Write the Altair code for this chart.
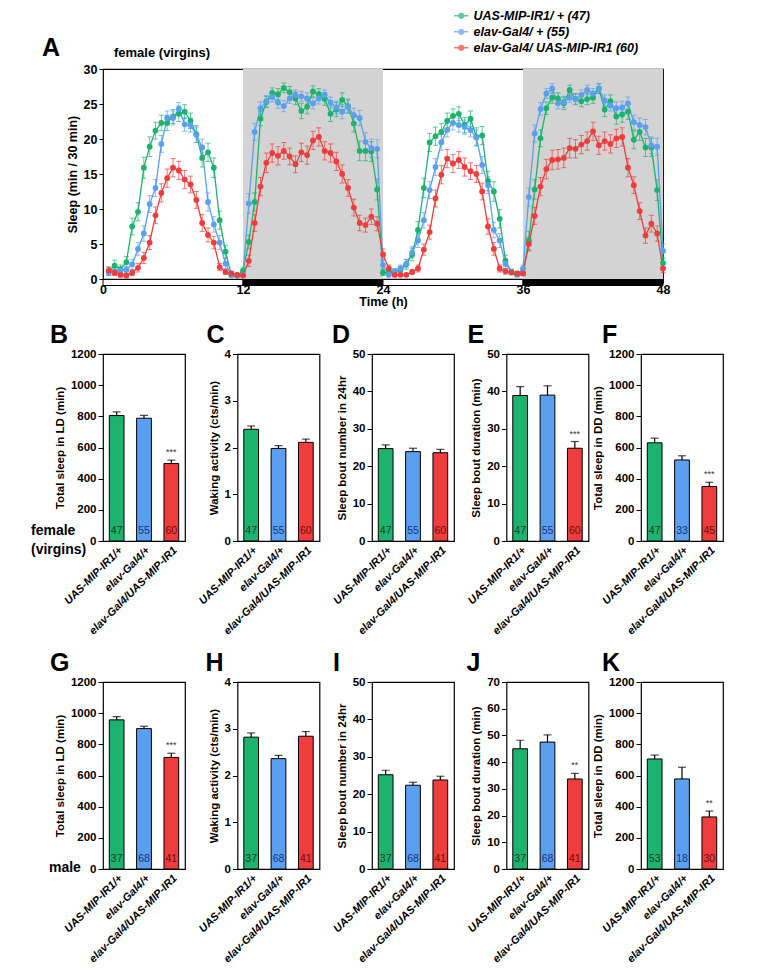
import altair as alt
import pandas as pd

FONT = "Liberation Sans"
GREEN, BLUE, RED = "#1db36e", "#5b9ff0", "#ef3c3c"
GREEN_T, BLUE_T, RED_T = "#0d4023", "#17357a", "#6e0b0b"

# ---------------- Panel A data ----------------
series_labels = ["UAS-MIP-IR1/ +  (47)", "elav-Gal4/ +  (55)", "elav-Gal4/ UAS-MIP-IR1  (60)"]

green_sleep = [1.1, 1.9, 1.4, 2.4, 7.5, 9.6, 15.9, 18.9, 21.2, 22.3, 22.3, 23.2, 23.6, 23.9, 22.6, 20.7, 17.3, 18.1, 15.9, 8.4, 3.9, 0.6, 0.5, 1.2,
               5.3, 11.0, 22.9, 25.3, 26.6, 26.4, 27.3, 26.7, 25.8, 24.0, 24.6, 26.8, 26.4, 25.7, 23.6, 24.2, 25.6, 24.7, 22.2, 18.3, 18.3, 18.2, 12.8, 0.9,
               0.9, 1.0, 1.3, 2.1, 3.5, 7.0, 13.0, 19.5, 20.4, 21.0, 22.6, 23.3, 23.6, 22.0, 22.9, 20.3, 20.5, 14.0, 12.5, 8.6, 2.6, 1.0, 0.7, 0.8,
               5.5, 12.8, 20.1, 24.4, 25.9, 25.8, 25.1, 27.0, 25.7, 25.4, 25.7, 25.9, 27.2, 24.2, 25.4, 23.2, 23.5, 23.9, 19.9, 21.0, 18.8, 18.8, 12.7, 2.3]
blue_sleep = [0.9, 1.1, 1.2, 1.3, 2.1, 4.3, 6.5, 10.7, 13.0, 19.3, 23.0, 23.0, 24.3, 22.1, 22.0, 20.6, 18.8, 11.0, 7.8, 5.2, 2.2, 0.6, 0.5, 0.6,
              10.8, 21.0, 24.4, 25.4, 26.0, 25.2, 24.7, 25.8, 26.3, 26.1, 25.8, 25.1, 25.8, 26.3, 25.2, 24.5, 23.9, 24.6, 23.4, 23.0, 19.6, 18.7, 18.6, 2.0,
              0.6, 1.1, 1.5, 2.2, 3.8, 5.5, 8.4, 12.7, 16.0, 19.5, 21.3, 22.3, 22.0, 21.7, 21.3, 20.2, 16.3, 13.4, 7.0, 5.5, 2.2, 1.0, 0.6, 1.5,
              11.7, 20.8, 24.3, 26.5, 27.2, 25.1, 25.3, 25.9, 25.7, 26.3, 27.0, 26.5, 27.2, 25.5, 24.8, 24.4, 24.5, 25.1, 22.4, 22.0, 21.7, 19.1, 18.9, 4.0]
red_sleep = [1.2, 0.9, 0.6, 0.5, 0.9, 1.6, 3.0, 5.2, 9.1, 12.3, 14.4, 15.9, 15.5, 14.2, 13.5, 11.3, 8.0, 6.3, 5.2, 1.7, 1.0, 0.8, 0.6, 0.5,
             2.6, 8.0, 13.2, 16.6, 18.0, 17.6, 18.3, 17.5, 16.4, 18.1, 17.7, 19.8, 20.3, 18.3, 18.0, 16.8, 15.0, 13.0, 10.2, 8.0, 7.7, 8.9, 7.9, 3.5,
             1.5, 0.6, 0.6, 0.6, 1.0, 1.5, 4.2, 6.7, 11.5, 14.9, 17.2, 16.5, 17.0, 16.0, 15.4, 15.0, 12.5, 7.5, 4.3, 1.5, 1.1, 0.95, 0.8, 0.8,
             5.0, 9.0, 13.2, 15.7, 17.0, 17.1, 17.3, 18.7, 18.6, 19.2, 19.7, 21.1, 19.1, 19.7, 19.3, 20.1, 20.3, 15.9, 13.4, 9.7, 6.2, 7.9, 6.5, 1.5]

green_sem = [0.6, 0.8, 0.6, 0.8, 1.2, 1.3, 1.5, 1.4, 1.2, 1.1, 1.1, 1.0, 1.1, 1.0, 1.1, 1.2, 1.3, 1.3, 1.4, 1.3, 0.9, 0.3, 0.2, 0.5,
             1.0, 1.3, 1.0, 0.8, 0.7, 0.8, 0.7, 0.8, 0.9, 1.1, 1.0, 0.8, 0.8, 0.9, 1.1, 1.0, 1.0, 1.0, 1.2, 1.4, 1.4, 1.4, 1.5, 0.4,
             0.4, 0.4, 0.5, 0.7, 0.9, 1.2, 1.4, 1.3, 1.3, 1.2, 1.1, 1.0, 1.0, 1.1, 1.1, 1.3, 1.3, 1.4, 1.4, 1.3, 0.8, 0.4, 0.3, 0.3,
             1.3, 1.4, 1.2, 0.9, 0.8, 0.8, 0.9, 0.7, 0.8, 0.8, 0.8, 0.8, 0.7, 1.0, 0.9, 1.1, 1.1, 1.1, 1.3, 1.2, 1.3, 1.3, 1.5, 0.6]
blue_sem = [0.4, 0.5, 0.5, 0.5, 0.7, 0.9, 1.1, 1.2, 1.2, 1.2, 1.0, 1.0, 0.9, 1.0, 1.0, 1.1, 1.2, 1.3, 1.1, 1.0, 0.7, 0.3, 0.2, 0.3,
            1.4, 1.2, 0.9, 0.8, 0.7, 0.8, 0.8, 0.7, 0.7, 0.7, 0.8, 0.8, 0.8, 0.7, 0.8, 0.9, 1.0, 0.9, 1.0, 1.1, 1.3, 1.3, 1.3, 0.6,
            0.3, 0.4, 0.5, 0.6, 0.8, 1.0, 1.1, 1.2, 1.2, 1.1, 1.0, 1.0, 1.0, 1.0, 1.0, 1.1, 1.2, 1.2, 1.1, 1.0, 0.7, 0.4, 0.3, 0.5,
            1.3, 1.2, 0.9, 0.7, 0.7, 0.8, 0.8, 0.7, 0.7, 0.7, 0.7, 0.7, 0.7, 0.8, 0.8, 0.9, 0.9, 0.9, 1.0, 1.0, 1.1, 1.2, 1.2, 1.0]
red_sem = [0.5, 0.4, 0.3, 0.3, 0.4, 0.6, 0.8, 1.0, 1.2, 1.3, 1.3, 1.3, 1.3, 1.3, 1.2, 1.2, 1.2, 1.0, 0.9, 0.5, 0.3, 0.3, 0.2, 0.2,
           0.8, 1.2, 1.3, 1.4, 1.3, 1.3, 1.2, 1.2, 1.2, 1.3, 1.3, 1.3, 1.3, 1.3, 1.3, 1.3, 1.3, 1.2, 1.2, 1.1, 1.0, 1.1, 1.0, 0.8,
           0.5, 0.3, 0.2, 0.2, 0.3, 0.5, 0.8, 1.0, 1.2, 1.3, 1.3, 1.3, 1.2, 1.3, 1.2, 1.2, 1.2, 1.1, 0.9, 0.5, 0.4, 0.3, 0.3, 0.3,
           1.0, 1.2, 1.3, 1.4, 1.4, 1.4, 1.4, 1.4, 1.3, 1.3, 1.3, 1.3, 1.3, 1.3, 1.3, 1.3, 1.3, 1.3, 1.2, 1.2, 1.1, 1.2, 1.1, 0.6]

time_h = [0.5 * (i + 1) for i in range(96)]

period_start = [0, 12, 24, 36]
period_end = [12, 24, 36, 48]
period_phase = ["light", "dark", "light", "dark"]

# ---------------- Bar panel data ----------------
geno = ["UAS-MIP-IR1/+", "elav-Gal4/+", "elav-Gal4/UAS-MIP-IR1"]

B_mean, B_sem, B_n = [805, 788, 497], [23, 18, 22], [47, 55, 60]
C_mean, C_sem, C_n = [2.39, 1.98, 2.11], [0.07, 0.06, 0.07], [47, 55, 60]
D_mean, D_sem, D_n = [24.7, 23.9, 23.6], [1.0, 0.9, 0.9], [47, 55, 60]
E_mean, E_sem, E_n = [38.9, 39.0, 24.8], [2.4, 2.5, 1.8], [47, 55, 60]
F_mean, F_sem, F_n = [630, 520, 350], [30, 27, 27], [47, 33, 45]
G_mean, G_sem, G_n = [957, 901, 716], [21, 15, 27], [37, 68, 41]
H_mean, H_sem, H_n = [2.82, 2.36, 2.84], [0.09, 0.07, 0.10], [37, 68, 41]
I_mean, I_sem, I_n = [25.2, 22.4, 23.8], [1.2, 0.8, 1.0], [37, 68, 41]
J_mean, J_sem, J_n = [45.0, 47.5, 33.7], [3.2, 2.7, 2.1], [37, 68, 41]
K_mean, K_sem, K_n = [706, 578, 334], [25, 75, 38], [53, 18, 30]

LEFT_EXTENT = -73  # common left edge of every row (invisible anchor)

# ---------------- Panel A ----------------
W_A, H_A = 560, 210

rows = []
for lab, vals, sems in zip(series_labels, [green_sleep, blue_sleep, red_sleep], [green_sem, blue_sem, red_sem]):
    for t, v, s in zip(time_h, vals, sems):
        rows.append({"series": lab, "t": t, "v": v, "lo": v - s, "hi": v + s})
df_a = pd.DataFrame(rows)
df_p = pd.DataFrame({"s": period_start, "e": period_end, "phase": period_phase})
df_dark = df_p[df_p.phase == "dark"]

xscale = alt.Scale(domain=[0, 48], nice=False, zero=False)
yscale = alt.Scale(domain=[0, 30], nice=False)
xaxis = alt.Axis(values=[0, 12, 24, 36, 48], title="Time (h)", labelFontWeight="bold", labelFontSize=12.5,
                 titleFontSize=12.5, titleFontWeight="bold", tickSize=4, labelPadding=0, titlePadding=0,
                 labelFlush=False, labelOverlap=False, domain=False, grid=False)
yaxis = alt.Axis(values=[0, 5, 10, 15, 20, 25, 30], title="Sleep (min / 30 min)", labelFontWeight="bold",
                 labelFontSize=12.5, titleFontSize=12.5, titleFontWeight="bold", tickSize=4, labelPadding=2,
                 titlePadding=4, labelOverlap=False, grid=False, domain=False)

legend = alt.Legend(title=None, orient="none", legendX=352, legendY=-59.5, labelFont=FONT, labelFontSize=12.5,
                    labelFontWeight="bold", labelFontStyle="italic", labelLimit=400,
                    symbolType="M-1.6,0L1.6,0M0.55,0A0.55,0.55,0,1,1,-0.55,0A0.55,0.55,0,1,1,0.55,0Z",
                    symbolSize=80, symbolStrokeWidth=1.3, rowPadding=3, labelOffset=6)
color_enc = alt.Color("series:N", scale=alt.Scale(domain=series_labels, range=[GREEN, BLUE, RED]), legend=legend)


def ax(field):
    return alt.X(field, scale=xscale, axis=xaxis)


def ay(field):
    return alt.Y(field, scale=yscale, axis=yaxis)


def spacer(ypos):
    return alt.Chart(pd.DataFrame({"txt": ["."]})).mark_text(
        font=FONT, fontSize=10, opacity=0, align="left").encode(
        text="txt:N", x=alt.value(LEFT_EXTENT), y=alt.value(ypos))


shade = alt.Chart(df_dark).mark_rect(color="#d3d3d3").encode(x=ax("s:Q"), x2="e:Q")
ldbar = alt.Chart(df_p).mark_rect(stroke="black", strokeWidth=1).encode(
    x=ax("s:Q"), x2="e:Q", y=alt.value(H_A + 0.5), y2=alt.value(H_A + 6.5),
    fill=alt.Fill("phase:N", scale=alt.Scale(domain=["light", "dark"], range=["white", "black"]), legend=None))
err = alt.Chart(df_a).mark_rule(strokeWidth=1, opacity=0.7).encode(
    x=ax("t:Q"), y=ay("lo:Q"), y2="hi:Q", color=color_enc)
cap_hi = alt.Chart(df_a).mark_tick(orient="horizontal", size=5, thickness=1, opacity=0.7).encode(
    x=ax("t:Q"), y=ay("hi:Q"), color=color_enc)
cap_lo = alt.Chart(df_a).mark_tick(orient="horizontal", size=5, thickness=1, opacity=0.7).encode(
    x=ax("t:Q"), y=ay("lo:Q"), color=color_enc)
line = alt.Chart(df_a).mark_line(strokeWidth=1.3).encode(x=ax("t:Q"), y=ay("v:Q"), color=color_enc)
pts = alt.Chart(df_a).mark_point(filled=True, size=34, opacity=1).encode(
    x=ax("t:Q"), y=ay("v:Q"), color=color_enc)
txt_letter = alt.Chart(pd.DataFrame({"txt": ["A"]})).mark_text(
    font=FONT, fontSize=25, fontWeight="bold", align="left", baseline="alphabetic").encode(
    text="txt:N", x=alt.value(-61), y=alt.value(-13))
txt_sub = alt.Chart(pd.DataFrame({"txt": ["female (virgins)"]})).mark_text(
    font=FONT, fontSize=13, fontWeight="bold", align="left", baseline="middle").encode(
    text="txt:N", x=alt.value(11), y=alt.value(-16))

panel_a = alt.layer(shade, ldbar, err, cap_hi, cap_lo, line, pts, txt_letter, txt_sub,
                    spacer(H_A / 2)).properties(width=W_A, height=H_A)

# ---------------- Bar panels ----------------
W_B, H_B = 82, 187


def bar_panel(letter, letter_dx, ytitle, ymax, ystep, means, sems, ns, star, side=None):
    df = pd.DataFrame({"g": geno, "m": means, "s": sems, "n": [str(v) for v in ns], "star": ["", "", star]})
    df["hi"] = df["m"] + df["s"]
    x = alt.X("g:N", sort=geno, scale=alt.Scale(paddingInner=0.46, paddingOuter=0.23),
              axis=alt.Axis(title=None, labelAngle=-45, labelAlign="right", labelBaseline="top",
                            labelFontStyle="italic", labelFontWeight="bold", labelFontSize=11,
                            ticks=False, labelPadding=3, domain=False, labelOverlap=False))
    ysc = alt.Scale(domain=[0, ymax], nice=False)
    yax = alt.Axis(title=ytitle, values=list(range(0, ymax + 1, ystep)), format="d", labelFontWeight="bold",
                   labelFontSize=11.5, titleFontSize=11.5, titleFontWeight="bold", tickSize=5,
                   labelPadding=2, titlePadding=5, grid=False, domain=False, labelOverlap=False)

    def by(field):
        return alt.Y(field, scale=ysc, axis=yax)

    base = alt.Chart(df)
    bars = base.mark_bar(stroke="black", strokeWidth=1).encode(
        x=x, y=by("m:Q"),
        fill=alt.Fill("g:N", scale=alt.Scale(domain=geno, range=[GREEN, BLUE, RED]), legend=None))
    rule = base.mark_rule(color="black", strokeWidth=1.2).encode(x=x, y=by("m:Q"), y2="hi:Q")
    cap = base.mark_tick(color="black", size=8, thickness=1.2, orient="horizontal").encode(x=x, y=by("hi:Q"))
    ntext = base.mark_text(font=FONT, fontSize=10.5, baseline="middle").encode(
        x=x, y=alt.value(H_B - 10.5), text="n:N",
        color=alt.Color("g:N", scale=alt.Scale(domain=geno, range=[GREEN_T, BLUE_T, RED_T]), legend=None))
    stars = base.mark_text(font=FONT, fontSize=9, baseline="bottom", dy=-3, color="#333333").encode(
        x=x, y=by("hi:Q"), text="star:N")
    layers = [bars, rule, cap, ntext, stars]
    if side is not None:
        side_txt = alt.Chart(pd.DataFrame({"txt": [side[0]]})).mark_text(
            font=FONT, fontSize=14, fontWeight="bold", align="left", baseline="middle",
            lineBreak="\n", lineHeight=19).encode(text="txt:N", x=alt.value(side[2]), y=alt.value(side[1]))
        layers += [side_txt, spacer(H_B / 2)]
    return alt.layer(*layers).properties(
        width=W_B, height=H_B,
        title=alt.TitleParams(letter, anchor="start", frame="group", dx=letter_dx, fontSize=25,
                              fontWeight="bold", font=FONT, offset=0))


row1 = alt.hconcat(
    bar_panel("B", -53, "Total sleep in LD (min)", 1200, 200, B_mean, B_sem, B_n, "***",
              ("female\n(virgins)", 177, -72)),
    bar_panel("C", -31, "Waking activity (cts/min)", 4, 1, C_mean, C_sem, C_n, ""),
    bar_panel("D", -40, "Sleep bout number in 24hr", 50, 10, D_mean, D_sem, D_n, ""),
    bar_panel("E", -39, "Sleep bout duration (min)", 50, 10, E_mean, E_sem, E_n, "***"),
    bar_panel("F", -39, "Total sleep in DD (min)", 1200, 200, F_mean, F_sem, F_n, "***"),
    spacing=52.5, bounds="flush")

row2 = alt.hconcat(
    bar_panel("G", -53, "Total sleep in LD (min)", 1200, 200, G_mean, G_sem, G_n, "***", ("male", 186, -54)),
    bar_panel("H", -32, "Waking activity (cts/min)", 4, 1, H_mean, H_sem, H_n, ""),
    bar_panel("I", -39, "Sleep bout number in 24hr", 50, 10, I_mean, I_sem, I_n, ""),
    bar_panel("J", -40, "Sleep bout duration (min)", 70, 10, J_mean, J_sem, J_n, "**"),
    bar_panel("K", -39, "Total sleep in DD (min)", 1200, 200, K_mean, K_sem, K_n, "**"),
    spacing=52.5, bounds="flush")

chart = alt.vconcat(panel_a, row1, row2, spacing=13).resolve_scale(
    color="independent", fill="independent"
).properties(
    padding={"left": 21, "top": 0, "right": 2, "bottom": 2}
).configure(font=FONT).configure_view(stroke="black", strokeWidth=1.2).configure_axis(
    domainColor="black", tickColor="black", labelColor="black", titleColor="black",
    labelFont=FONT, titleFont=FONT, grid=False)

chart.save("out.html", embed_options={"renderer": "svg", "actions": False})
